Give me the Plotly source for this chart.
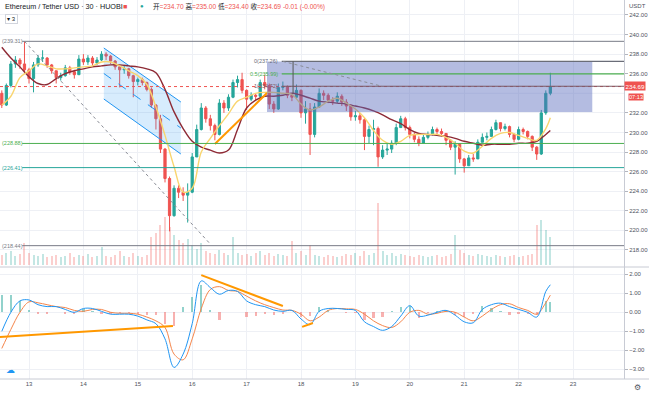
import pandas as pd
import plotly.graph_objects as go

# ---------------- data (2h bars) ----------------
start = "2020-06-12 12:00"
first_open = 234.0
close = [232.8, 234.8, 237.0, 237.4, 237.0, 236.4, 235.5, 236.9, 237.6, 237.6,
         236.9, 236.3, 235.6, 235.8, 236.6, 236.2, 235.9, 237.5, 237.2, 237.6,
         237.1, 237.4, 238.0, 237.8, 237.3, 236.7, 236.4, 236.5, 235.8, 235.2,
         235.4, 235.1, 234.4, 232.8, 231.4, 228.3, 225.3, 221.5, 224.3, 223.9,
         223.6, 223.9, 227.5, 230.3, 232.5, 231.4, 230.7, 229.8, 233.0, 232.5,
         233.6, 235.1, 235.4, 234.3, 233.4, 233.8, 233.7, 235.1, 234.8, 232.9,
         232.4, 234.6, 234.7, 233.8, 233.6, 234.3, 232.0, 232.4, 229.8, 232.6,
         234.0, 233.8, 233.3, 233.2, 233.7, 233.1, 232.7, 231.6, 231.7, 231.3,
         229.6, 230.3, 230.4, 227.5, 228.2, 228.3, 228.9, 230.5, 231.4, 230.5,
         229.8, 229.3, 228.9, 229.5, 229.8, 230.3, 230.1, 229.9, 229.2, 228.5,
         228.8, 227.3, 226.6, 227.4, 227.3, 229.0, 229.5, 229.6, 230.3, 231.0,
         230.4, 230.6, 229.8, 229.3, 230.3, 230.1, 229.6, 228.5, 227.8, 232.0,
         234.0, 234.69]
high = [234.3, 235.0, 237.3, 237.8, 237.6, 239.3, 236.6, 237.2, 237.9, 238.4,
        237.7, 237.0, 236.3, 236.1, 236.9, 236.8, 236.4, 237.9, 238.0, 237.9,
        237.8, 237.7, 238.3, 238.2, 237.9, 237.4, 236.9, 236.8, 236.6, 235.9,
        235.6, 235.6, 235.2, 234.6, 232.9, 231.8, 228.4, 225.5, 224.6, 224.6,
        224.4, 224.8, 227.9, 230.8, 233.0, 232.7, 231.8, 230.9, 233.4, 233.3,
        233.9, 235.4, 235.8, 236.1, 234.4, 234.1, 234.0, 235.4, 235.9, 235.0,
        233.2, 235.0, 235.2, 234.8, 234.0, 234.9, 234.4, 233.2, 233.0, 233.0,
        234.5, 234.3, 234.0, 233.6, 234.1, 233.9, 233.4, 232.9, 232.2, 232.0,
        231.5, 230.7, 231.3, 230.6, 228.7, 228.9, 229.2, 230.9, 231.7, 231.6,
        230.7, 230.0, 229.6, 229.8, 230.1, 230.6, 230.5, 230.4, 229.9, 229.3,
        229.1, 228.9, 227.4, 227.7, 227.8, 229.3, 229.9, 230.0, 230.6, 231.3,
        231.0, 230.9, 230.7, 229.9, 230.6, 230.5, 230.2, 229.7, 228.6, 232.3,
        234.3, 236.1]
low = [232.5, 232.7, 234.6, 236.6, 236.5, 236.0, 235.0, 234.1, 236.7, 237.2,
       236.6, 236.0, 235.0, 235.3, 235.7, 235.9, 235.5, 235.9, 236.9, 236.9,
       236.8, 236.9, 237.3, 237.4, 237.0, 236.4, 234.6, 236.0, 235.5, 233.6,
       234.8, 234.8, 234.2, 232.5, 230.3, 227.9, 224.9, 219.9, 221.4, 223.3,
       223.0, 220.8, 223.8, 227.5, 230.2, 231.0, 230.2, 229.2, 229.7, 232.0,
       232.2, 233.5, 234.6, 234.0, 232.3, 233.2, 233.3, 233.6, 234.4, 232.4,
       232.0, 232.3, 234.3, 233.5, 233.2, 233.4, 231.5, 230.9, 227.7, 229.5,
       232.5, 233.3, 233.0, 232.8, 233.0, 232.7, 232.2, 231.2, 231.2, 230.9,
       228.2, 228.9, 228.7, 226.5, 227.3, 227.7, 227.9, 228.7, 230.5, 230.2,
       229.4, 229.0, 228.6, 228.9, 229.3, 229.7, 229.8, 229.6, 228.7, 228.2,
       225.7, 226.9, 225.9, 226.6, 227.0, 227.3, 229.0, 229.2, 229.6, 230.2,
       230.1, 230.2, 229.5, 229.0, 229.2, 229.8, 229.3, 228.1, 227.2, 227.7,
       231.8, 233.8]
volume = [10, 12, 14, 9, 11, 22, 12, 10, 9, 11, 8, 9, 10, 8, 9, 12, 8, 10, 9, 11,
          8, 9, 18, 9, 8, 10, 14, 9, 8, 12, 9, 8, 10, 28, 32, 40, 48, 38, 30, 25,
          22, 26, 20, 16, 22, 14, 12, 11, 15, 12, 10, 28, 12, 10, 11, 9, 12, 14, 10, 12,
          9, 11, 10, 9, 24, 12, 14, 10, 20, 10, 9, 8, 10, 9, 8, 9, 11, 10, 12, 9,
          14, 10, 12, 62, 14, 10, 12, 9, 11, 10, 9, 8, 10, 9, 8, 9, 10, 8, 9, 11,
          30, 15, 12, 10, 9, 11, 10, 9, 8, 10, 9, 8, 9, 10, 8, 9, 10, 11, 40, 45,
          35, 28]

# indicator values (every 4h + last bar)
ma_fast = [232.8, 233.7, 235.6, 236.3, 237.0, 236.8, 236.5, 236.5, 236.6, 236.7,
           236.8, 237.2, 237.2, 236.8, 236.3, 235.8, 234.9, 232.6, 229.7, 226.5,
           223.9, 224.3, 228.0, 229.4, 230.7, 231.9, 233.2, 233.6, 234.0, 234.1,
           234.1, 234.0, 233.9, 232.9, 232.3, 232.6, 233.2, 233.5, 233.0, 232.4,
           231.5, 230.2, 229.2, 228.8, 229.1, 229.7, 229.8, 229.8, 229.8, 229.5,
           228.9, 228.1, 227.9, 228.6, 229.4, 229.9, 230.0, 229.7, 229.4, 229.2,
           230.4, 231.5]
ma_slow = [238.7, 237.6, 236.7, 235.7, 235.0, 234.9, 235.5, 236.0, 236.3, 236.5,
           236.7, 236.8, 236.9, 236.9, 236.8, 236.7, 236.5, 236.1, 234.4, 232.1,
           230.4, 229.1, 228.5, 228.2, 227.9, 228.2, 230.3, 232.5, 233.3, 233.7,
           233.7, 233.8, 234.0, 233.8, 233.5, 233.2, 233.1, 233.0, 232.9, 232.7,
           232.5, 232.2, 231.8, 231.3, 230.9, 230.3, 229.9, 229.8, 229.7, 229.6,
           229.4, 229.1, 228.9, 228.7, 228.8, 228.8, 228.8, 228.9, 228.9, 229.1,
           229.8, 230.2]
macd = [-1.0, 0.0, 0.6, 0.65, 0.4, 0.3, 0.3, 0.15, 0.0, 0.2,
        0.2, 0.05, -0.1, -0.1, -0.1, -0.2, -0.4, -0.6, -1.4, -2.9,
        -2.2, -0.6, 1.65, 1.3, 0.95, 1.15, 1.1, 0.6, 0.4, 0.3,
        0.12, 0.05, 0.1, -0.35, -0.65, 0.05, 0.2, 0.2, 0.15, 0.1,
        -0.5, -0.75, -0.95, -0.75, -0.2, 0.35, -0.2, -0.15, 0.0, 0.1,
        -0.15, -0.5, -0.55, 0.15, 0.4, 0.48, 0.3, 0.15, 0.0, -0.25,
        1.1, 1.45]
signal = [-1.9, -0.9, 0.0, 0.55, 0.5, 0.4, 0.3, 0.25, 0.1, 0.05,
          0.15, 0.15, 0.0, -0.05, -0.05, -0.1, -0.25, -0.45, -0.8, -2.2,
          -2.5, -1.4, 0.2, 1.2, 1.35, 1.15, 1.1, 0.85, 0.6, 0.4,
          0.25, 0.12, 0.1, -0.1, -0.45, -0.25, 0.1, 0.2, 0.18, 0.15,
          -0.1, -0.45, -0.7, -0.8, -0.5, 0.0, 0.1, -0.1, -0.05, 0.05,
          0.0, -0.25, -0.45, -0.2, 0.15, 0.4, 0.45, 0.25, 0.1, -0.1,
          0.5, 0.9]

day_ticks = ["2020-06-%02d" % d for d in range(13, 24)]
day_labels = [str(d) for d in range(13, 24)]
price_ticks = [218, 220, 222, 224, 226, 228, 230, 232, 236, 238, 240, 242]
macd_ticks = [-3, -2, -1, 0, 1, 2]

# drawings (time, price)
h_levels = [239.31, 228.88, 226.41, 218.44]
h_labels = ["(239.31)", "(228.88)", "(226.41)", "(218.44)"]
h_colors = ["#787b86", "#4caf50", "#26a69a", "#787b86"]
h_start = "2020-06-12 21:00"
fib_levels = [237.26, 235.99, 234.72]
fib_labels = ["0(237.26)", "0.5(235.99)", "1(234.72)"]
fib_colors = ["#6a6d78", "#4caf50", "#7a5a66"]
fib_start = "2020-06-17 15:30"
fib_label_x = "2020-06-17 14:45"
box = dict(t0="2020-06-17 09:00", t1="2020-06-23 08:30", p0=232.09, p1=237.26)
fib_vline = dict(t="2020-06-17 20:30", p0=237.26, p1=234.0)
fib_diag = dict(t0="2020-06-17 16:00", p0=237.26, t1="2020-06-19 11:45", p1=234.72)
big_diag = dict(t0="2020-06-12 22:00", p0=239.31, t1="2020-06-16 08:00", p1=218.6)
chan_t = ["2020-06-14 09:00", "2020-06-15 19:00"]
chan_up = [238.63, 233.11]
chan_lo = [233.42, 227.80]
orange_price = dict(t=["2020-06-16 10:00", "2020-06-17 09:00"], p=[228.82, 234.03])
orange_macd = [dict(t=["2020-06-12 11:00", "2020-06-15 15:30"], v=[-1.30, -0.72]),
               dict(t=["2020-06-16 04:00", "2020-06-17 16:00"], v=[1.96, 0.33]),
               dict(t=["2020-06-18 00:30", "2020-06-18 05:15"], v=[-0.77, -0.56])]
last_price = 234.69

# ---------------- build ----------------
times = pd.date_range(start, periods=len(close), freq="2h")
opens = [first_open] + close[:-1]
hi = [max(h, o, c) for h, o, c in zip(high, opens, close)]
lo = [min(l, o, c) for l, o, c in zip(low, opens, close)]
ind_times = list(times[::2]) + [times[-1]]
hist = [m - s for m, s in zip(macd, signal)]

UP, DN = "#26a69a", "#ef5350"
vol_colors = ["rgba(38,166,154,0.28)" if c >= o else "rgba(239,83,80,0.28)" for o, c in zip(opens, close)]
hist_colors = ["rgba(38,166,154,0.5)" if h >= 0 else "rgba(239,83,80,0.45)" for h in hist]

x_left = pd.Timestamp("2020-06-12") + pd.Timedelta(days=0.4669)
x_right = pd.Timestamp("2020-06-23") + pd.Timedelta(days=0.9375)

W, H = 649, 393
MB = 14
PH = H - MB
split = (PH - 267) / PH

def px(x):
    return x / (W - 25)

def py(y):
    return (PH - y) / PH

fig = go.Figure()

fig.add_trace(go.Bar(x=times, y=volume, marker_color=vol_colors, marker_line_width=0,
                     width=3600 * 1000 * 0.9, xaxis="x", yaxis="y3", hoverinfo="skip"))

# channel
fig.add_trace(go.Scatter(x=[chan_t[0], chan_t[1], chan_t[1], chan_t[0], chan_t[0]],
                         y=[chan_up[0], chan_up[1], chan_lo[1], chan_lo[0], chan_up[0]],
                         fill="toself", fillcolor="rgba(33,150,243,0.18)", mode="lines",
                         line=dict(width=0), xaxis="x", yaxis="y"))
for ys, dash in [(chan_up, "solid"), (chan_lo, "solid"),
                 ([(a + b) / 2 for a, b in zip(chan_up, chan_lo)], "dash")]:
    fig.add_trace(go.Scatter(x=chan_t, y=ys, mode="lines",
                             line=dict(color="#2196f3", width=1, dash=dash), xaxis="x", yaxis="y"))

fig.add_trace(go.Candlestick(x=times, open=opens, high=hi, low=lo, close=close,
                             increasing=dict(line=dict(color=UP, width=1), fillcolor=UP),
                             decreasing=dict(line=dict(color=DN, width=1), fillcolor=DN),
                             whiskerwidth=0, xaxis="x", yaxis="y"))

fig.add_trace(go.Scatter(x=ind_times, y=ma_slow, mode="lines", line=dict(color="#8e2a35", width=1.4, shape="spline"),
                         xaxis="x", yaxis="y"))
fig.add_trace(go.Scatter(x=ind_times, y=ma_fast, mode="lines", line=dict(color="#f9d56e", width=1.4, shape="spline"),
                         xaxis="x", yaxis="y"))

fig.add_trace(go.Scatter(x=orange_price["t"], y=orange_price["p"], mode="lines",
                         line=dict(color="#ff9800", width=2), xaxis="x", yaxis="y"))

# MACD pane
fig.add_trace(go.Bar(x=ind_times, y=hist, marker_color=hist_colors, marker_line_width=0,
                     width=3600 * 1000 * 1.0, xaxis="x2", yaxis="y2"))
fig.add_trace(go.Scatter(x=ind_times, y=signal, mode="lines", line=dict(color="#f5854a", width=1, shape="spline"),
                         xaxis="x2", yaxis="y2"))
fig.add_trace(go.Scatter(x=ind_times, y=macd, mode="lines", line=dict(color="#2196f3", width=1, shape="spline"),
                         xaxis="x2", yaxis="y2"))
for seg in orange_macd:
    fig.add_trace(go.Scatter(x=seg["t"], y=seg["v"], mode="lines",
                             line=dict(color="#ff9800", width=2), xaxis="x2", yaxis="y2"))

grid = "#eef0f5"
shapes = []
# grid line at 234 (its label is covered by the price tag)
shapes.append(dict(type="line", xref="paper", yref="y", x0=0, x1=1, y0=234, y1=234,
                   line=dict(color=grid, width=1), layer="below"))
for lvl, col in zip(h_levels, h_colors):
    shapes.append(dict(type="line", xref="x", yref="y", x0=h_start, x1=x_right, y0=lvl, y1=lvl,
                       line=dict(color=col, width=1)))
shapes.append(dict(type="line", xref="x", yref="y", x0=x_left, x1=x_right, y0=last_price, y1=last_price,
                   line=dict(color="#ef5350", width=1, dash="dot")))
shapes.append(dict(type="rect", xref="x", yref="y", x0=box["t0"], x1=box["t1"], y0=box["p0"], y1=box["p1"],
                   fillcolor="rgba(88,106,188,0.45)", line=dict(width=0), layer="above"))
for lvl, col in zip(fib_levels, fib_colors):
    shapes.append(dict(type="line", xref="x", yref="y", x0=fib_start, x1=x_right, y0=lvl, y1=lvl,
                       line=dict(color=col, width=1.2)))
shapes.append(dict(type="line", xref="x", yref="y", x0=fib_vline["t"], x1=fib_vline["t"],
                   y0=fib_vline["p0"], y1=fib_vline["p1"], line=dict(color="#555", width=1)))
shapes.append(dict(type="line", xref="x", yref="y", x0=fib_diag["t0"], x1=fib_diag["t1"],
                   y0=fib_diag["p0"], y1=fib_diag["p1"], line=dict(color="#8a8d96", width=1, dash="dot")))
shapes.append(dict(type="line", xref="x", yref="y", x0=big_diag["t0"], x1=big_diag["t1"],
                   y0=big_diag["p0"], y1=big_diag["p1"], line=dict(color="#8a8d96", width=1, dash="dot")))
# pane separator and bottom axis line
shapes.append(dict(type="line", xref="paper", yref="paper", x0=0, x1=W / (W - 25), y0=split, y1=split,
                   line=dict(color="#c8cbd4", width=1)))
shapes.append(dict(type="line", xref="paper", yref="paper", x0=0, x1=W / (W - 25), y0=0, y1=0,
                   line=dict(color="#c8cbd4", width=1)))

red = "#ef5350"
ann = []
ann.append(dict(xref="paper", yref="paper", x=px(3), y=py(6), xanchor="left", yanchor="middle",
                text="Ethereum / Tether USD · 30 · HUOBI", showarrow=False,
                font=dict(size=7.2, color="#131722")))
ann.append(dict(xref="paper", yref="paper", x=px(121), y=py(6), xanchor="left", yanchor="middle",
                text="■", showarrow=False, font=dict(size=7, color=red)))
ann.append(dict(xref="paper", yref="paper", x=px(138), y=py(6), xanchor="left", yanchor="middle",
                text="●", showarrow=False, font=dict(size=6, color="#26a69a")))
ohlc = ("开<span style='color:%s'>=234.70</span> 高<span style='color:%s'>=235.00</span> "
        "低<span style='color:%s'>=234.40</span> 收<span style='color:%s'>=234.69</span> "
        "<span style='color:%s'>-0.01 (-0.00%%)</span>") % (red, red, red, red, red)
ann.append(dict(xref="paper", yref="paper", x=px(151), y=py(6), xanchor="left", yanchor="middle",
                text=ohlc, showarrow=False, font=dict(size=6.6, color="#131722")))
ann.append(dict(xref="paper", yref="paper", x=px(5), y=py(19), xanchor="left", yanchor="middle",
                text="▾ 3", showarrow=False, font=dict(size=6, color="#131722"),
                bordercolor="#d1d4dc", borderwidth=1, borderpad=1, bgcolor="white"))
for lvl, lab, col in zip(h_levels, h_labels, h_colors):
    ann.append(dict(xref="paper", yref="y", x=0.0, y=lvl, xanchor="left", yanchor="middle",
                    text=lab, showarrow=False, font=dict(size=5.5, color=col)))
for lvl, lab, col in zip(fib_levels, fib_labels, fib_colors):
    ann.append(dict(xref="x", yref="y", x=fib_label_x, y=lvl, xanchor="right", yanchor="middle",
                    text=lab, showarrow=False, font=dict(size=5.5, color=col)))
ann.append(dict(xref="paper", yref="paper", x=px(637), y=py(6), xanchor="center", yanchor="middle",
                text="USDT", showarrow=False, font=dict(size=6, color="#50535e")))
ann.append(dict(xref="paper", yref="y", x=1.0, y=last_price, yshift=1, xanchor="left", yanchor="middle",
                text="234.69", showarrow=False, font=dict(size=6.2, color="white"),
                bgcolor=red, borderpad=0.5))
ann.append(dict(xref="paper", yref="y", x=px(628), y=last_price, yshift=-10, xanchor="left", yanchor="middle",
                text="07:13", showarrow=False, font=dict(size=5.6, color="white"),
                bgcolor=red, borderpad=0))
ann.append(dict(xref="paper", yref="paper", x=px(10), y=py(370), xanchor="center", yanchor="middle",
                text="☁", showarrow=False, font=dict(size=9, color="#2196f3", family="DejaVu Sans")))
ann.append(dict(xref="paper", yref="paper", x=px(637), y=py(387), xanchor="center", yanchor="middle",
                text="⚙", showarrow=False, font=dict(size=8, color="#50535e", family="DejaVu Sans")))

axis_font = dict(size=6, color="#50535e")
fig.update_layout(
    width=W, height=H,
    margin=dict(l=0, r=25, t=0, b=MB),
    paper_bgcolor="white", plot_bgcolor="white",
    showlegend=False,
    font=dict(family="Liberation Sans, Noto Sans CJK SC, sans-serif"),
    shapes=shapes, annotations=ann,
    bargap=0,
    xaxis=dict(domain=[0, 1], anchor="y", type="date", range=[x_left, x_right],
               tickvals=day_ticks, showticklabels=False, showgrid=True, gridcolor=grid,
               rangeslider=dict(visible=False), zeroline=False),
    xaxis2=dict(domain=[0, 1], anchor="y2", type="date", range=[x_left, x_right], matches="x",
                tickvals=day_ticks, ticktext=day_labels, showgrid=True, gridcolor=grid,
                tickfont=axis_font, ticks="", zeroline=False),
    yaxis=dict(domain=[split, 1], anchor="x", side="right", range=[216.26, 243.53],
               tickvals=price_ticks, tickformat=".2f", showgrid=True, gridcolor=grid,
               tickfont=axis_font, ticks="outside", ticklen=3, tickcolor="#b2b5be",
               showline=True, linecolor="#c8cbd4", linewidth=1, zeroline=False),
    yaxis2=dict(domain=[0, split], anchor="x2", side="right", range=[-3.51, 2.384],
                tickvals=macd_ticks, tickformat=".2f", showgrid=True, gridcolor=grid,
                tickfont=axis_font, ticks="outside", ticklen=3, tickcolor="#b2b5be",
                showline=True, linecolor="#c8cbd4", linewidth=1, zeroline=False),
    yaxis3=dict(overlaying="y", range=[-2, 265], visible=False, showgrid=False),
)

fig.write_html("out.html", config={"displayModeBar": False},
               post_script="document.body.style.margin='0';document.body.style.overflow='hidden';")
